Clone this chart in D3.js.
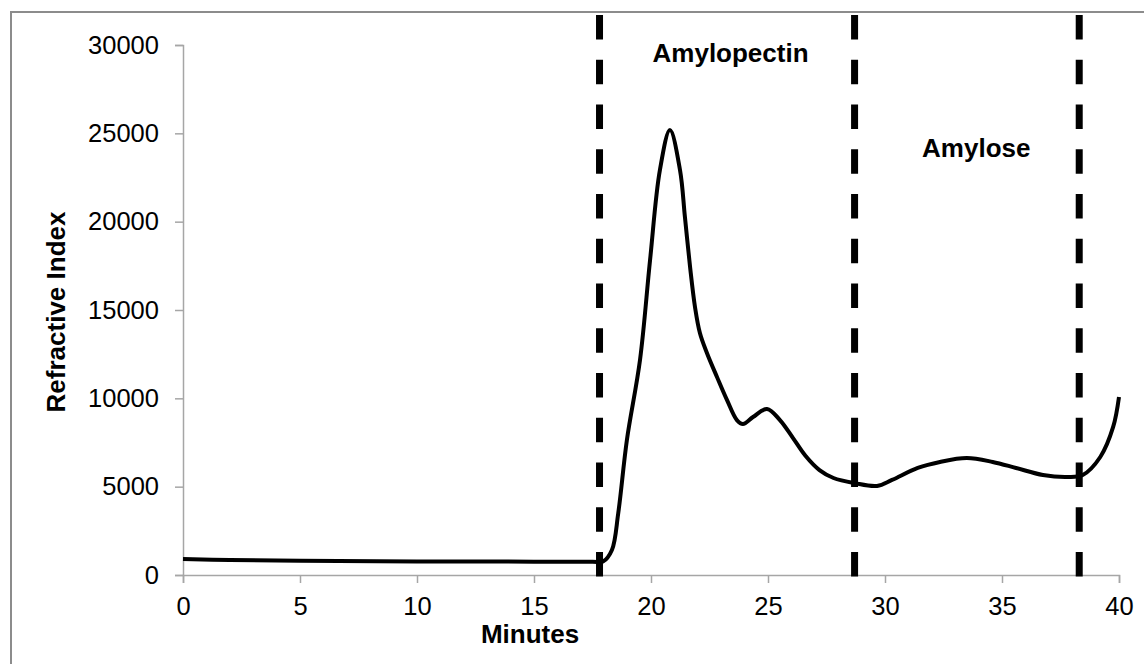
<!DOCTYPE html>
<html lang="en">
<head>
<meta charset="UTF-8">
<title>Refractive Index vs Minutes</title>
<script src="https://cdn.jsdelivr.net/npm/d3@7"></script>
<style>
    body { margin: 0; background: #fff; }
    text { font-family: "Liberation Sans", Arial, sans-serif; fill: #000; }
    .lbl { font-weight: bold; font-size: 26px; }
</style>
</head>
<body>
<svg id="chart" width="1144" height="664"></svg>
<script>
    // chromatogram readings (minutes, refractive index)
    let minutes = [0, 2, 5, 10, 15, 17.5, 17.95, 18.33, 18.6, 18.97, 19.53, 19.96, 20.38, 20.81, 21.24, 21.45, 21.67,
        21.88, 22.09, 22.39, 22.82, 23.25, 23.67, 23.93, 24.36, 24.96, 25.51, 26.07, 26.6, 27.2, 27.8,
        28.7, 29.66, 30.3, 31.4, 32.35, 33.5, 34.6, 35.6, 36.75, 37.8, 38.45, 39.2, 39.75, 40.0]
    let refractive = [900, 850, 800, 770, 755, 750, 760, 1415, 3500, 7640, 12170, 17830, 22920, 25190, 22920, 20260, 17430,
        15170, 13700, 12570, 11210, 9900, 8770, 8550, 8940, 9400, 8770, 7750, 6750, 5940, 5490,
        5200, 5040, 5380, 6060, 6400, 6620, 6400, 6060, 5660, 5550, 5660, 6680, 8380, 10080]

    // fraction boundaries (dashed lines)
    let cutoffs = [17.8, 28.7, 38.3]

    // region labels
    let regionNames = ["Amylopectin", "Amylose"]
    let regionX = [23.4, 33.9]
    let regionY = [29040, 23660]

    let xTicks = [0, 5, 10, 15, 20, 25, 30, 35, 40]
    let yTicks = [0, 5000, 10000, 15000, 20000, 25000, 30000]

    let svg = d3.select("#chart")

    // outer frame
    svg.append("rect")
        .attr("x", 11).attr("y", 12)
        .attr("width", 1145).attr("height", 665)
        .attr("fill", "none")
        .attr("stroke", "#8c8c8c")
        .attr("stroke-width", 2)

    let x = d3.scaleLinear().domain([0, 40]).range([183, 1119])
    let y = d3.scaleLinear().domain([0, 30000]).range([575, 45])

    // x axis
    let gx = svg.append("g")
        .attr("transform", "translate(0," + y(0) + ")")
        .call(d3.axisBottom(x).tickValues(xTicks).tickSize(8).tickPadding(14).tickFormat(d3.format("d")))
    // y axis
    let gy = svg.append("g")
        .attr("transform", "translate(" + x(0) + ",0)")
        .call(d3.axisLeft(y).tickValues(yTicks).tickSize(8).tickPadding(16).tickFormat(d3.format("d")))

    for (let g of [gx, gy]) {
        g.select(".domain").attr("stroke", "#a6a6a6").attr("stroke-width", 1.5)
        g.selectAll(".tick line").attr("stroke", "#a6a6a6").attr("stroke-width", 1.5)
        g.selectAll(".tick text")
            .style("font-family", "'Liberation Sans', Arial, sans-serif")
            .style("font-size", "25.5px")
            .attr("fill", "#111")
    }

    // dashed boundaries
    svg.append("g").selectAll("line")
        .data(cutoffs)
        .join("line")
        .attr("x1", d => x(d)).attr("x2", d => x(d))
        .attr("y1", 15).attr("y2", 577)
        .attr("stroke", "#000")
        .attr("stroke-width", 7)
        .attr("stroke-dasharray", "24.5,20.25")

    // curve
    let pts = minutes.map((m, i) => [m, refractive[i]])
    let line = d3.line()
        .x(d => x(d[0]))
        .y(d => y(d[1]))
        .curve(d3.curveCatmullRom.alpha(0.5))
    svg.append("path")
        .datum(pts)
        .attr("d", line)
        .attr("fill", "none")
        .attr("stroke", "#000")
        .attr("stroke-width", 4)
        .attr("stroke-linejoin", "round")

    // region labels
    svg.append("g").selectAll("text")
        .data(regionNames)
        .join("text")
        .attr("class", "lbl")
        .attr("x", (d, i) => x(regionX[i]))
        .attr("y", (d, i) => y(regionY[i]))
        .attr("text-anchor", "middle")
        .text(d => d)

    // axis titles
    svg.append("text")
        .attr("class", "lbl")
        .attr("x", 530).attr("y", 643)
        .attr("text-anchor", "middle")
        .text("Minutes")
    svg.append("text")
        .attr("class", "lbl")
        .attr("transform", "translate(65,312) rotate(-90)")
        .attr("text-anchor", "middle")
        .text("Refractive Index")
</script>
</body>
</html>
